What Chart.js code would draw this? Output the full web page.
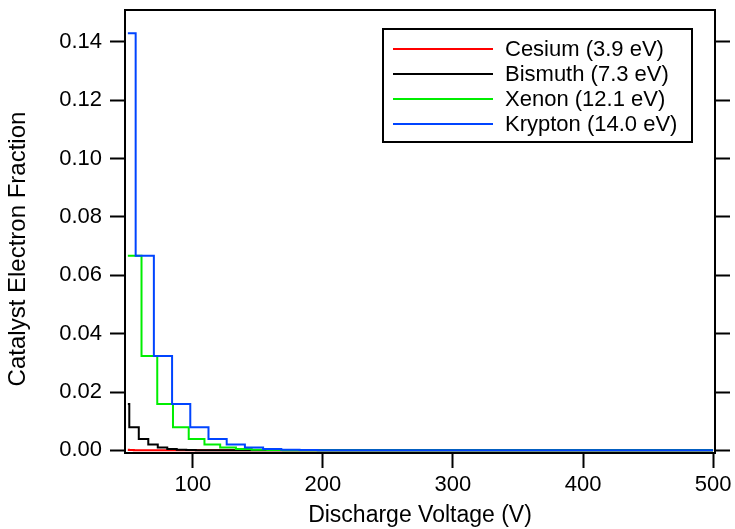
<!DOCTYPE html>
<html>
<head>
<meta charset="utf-8">
<script src="https://cdn.jsdelivr.net/npm/chart.js@4.4.1/dist/chart.umd.min.js"></script>
<style>
  html, body { margin: 0; padding: 0; background: #fff; }
  canvas { display: block; }
</style>
</head>
<body>
<canvas id="chart-fraction" width="735" height="529"></canvas>
<script>
// step edges (V) and electron fraction held from each edge to the next
const cesiumVolts = [50, 50.7, 54.6, 58.5, 62.4, 500];
const cesiumFrac = [0.00024, 0.00012, 0.00006, 0.00003, 0.00002, 0.00002];

const bismuthVolts = [50, 51.1, 58.4, 65.7, 73, 80.3, 87.6, 94.9, 102.2, 109.5, 500];
const bismuthFrac = [0.0159, 0.0079, 0.0039, 0.0020, 0.0010, 0.0005, 0.0002, 0.0001, 0.00006, 0.00003, 0.00003];

const xenonVolts = [50, 60.5, 72.6, 84.7, 96.8, 108.9, 121, 133.1, 145.2, 157.3, 169.4, 181.5, 500];
const xenonFrac = [0.0667, 0.0323, 0.0159, 0.0079, 0.0039, 0.0020, 0.0010, 0.0005, 0.0002, 0.0001, 0.00006, 0.00003, 0.00003];

const kryptonVolts = [50, 56, 70, 84, 98, 112, 126, 140, 154, 168, 182, 196, 210, 500];
const kryptonFrac = [0.1429, 0.0667, 0.0323, 0.0159, 0.0079, 0.0039, 0.0020, 0.0010, 0.0005, 0.0002, 0.0001, 0.00006, 0.00003, 0.00003];

const seriesNames = ['Cesium (3.9 eV)', 'Bismuth (7.3 eV)', 'Xenon (12.1 eV)', 'Krypton (14.0 eV)'];
const seriesColors = ['#ff0000', '#000000', '#00ee00', '#0044ff'];

const xTickValues = [100, 200, 300, 400, 500];
const yTickValues = [0, 0.02, 0.04, 0.06, 0.08, 0.10, 0.12, 0.14];

const X_MIN = 47.8, X_MAX = 501.5;
const Y_MIN = -0.0009, Y_MAX = 0.1509;

const FONT = '"Liberation Sans", Arial, sans-serif';
const FONT_SIZE = 22;
Chart.defaults.font.family = FONT;
Chart.defaults.font.size = FONT_SIZE;
Chart.defaults.color = '#000';

const ctx = document.getElementById('chart-fraction');

const voltSets = [cesiumVolts, bismuthVolts, xenonVolts, kryptonVolts];
const fracSets = [cesiumFrac, bismuthFrac, xenonFrac, kryptonFrac];

const datasets = seriesNames.map((name, i) => ({
  label: name,
  data: voltSets[i].map((v, j) => ({ x: v, y: fracSets[i][j] })),
  borderColor: seriesColors[i],
  borderWidth: 2,
  pointRadius: 0,
  stepped: 'before',
  fill: false,
  // krypton on top, cesium underneath
  order: seriesNames.length - 1 - i
}));

// plot frame, y title and the boxed legend in the upper right
const framePlugin = {
  id: 'frame',
  afterDatasetsDraw(chart) {
    const { ctx, chartArea: a } = chart;
    ctx.save();
    ctx.strokeStyle = '#000';
    ctx.lineWidth = 2;
    ctx.strokeRect(a.left, a.top, a.right - a.left, a.bottom - a.top);

    ctx.fillStyle = '#000';
    ctx.font = '24px ' + FONT;
    ctx.textAlign = 'center';
    ctx.textBaseline = 'middle';
    ctx.save();
    ctx.translate(18, 249);
    ctx.rotate(-Math.PI / 2);
    ctx.fillText('Catalyst Electron Fraction', 0, 0);
    ctx.restore();

    const boxRight = a.right - 23;
    const boxLeft = boxRight - 309;
    const boxTop = a.top + 19;
    const boxHeight = 113;
    ctx.fillStyle = '#fff';
    ctx.fillRect(boxLeft, boxTop, boxRight - boxLeft, boxHeight);
    ctx.strokeRect(boxLeft, boxTop, boxRight - boxLeft, boxHeight);

    ctx.font = FONT_SIZE + 'px ' + FONT;
    ctx.textAlign = 'left';
    seriesNames.forEach((name, i) => {
      const y = boxTop + 20 + i * 25;
      ctx.strokeStyle = seriesColors[i];
      ctx.beginPath();
      ctx.moveTo(boxLeft + 10, y);
      ctx.lineTo(boxLeft + 110, y);
      ctx.stroke();
      ctx.fillStyle = '#000';
      ctx.fillText(name, boxLeft + 122, y + 1);
    });
    ctx.restore();
  }
};

const tickGrid = {
  drawOnChartArea: false,
  drawTicks: true,
  tickLength: 15,
  tickWidth: 2,
  tickColor: '#000'
};

new Chart(ctx, {
  type: 'line',
  data: { datasets },
  plugins: [framePlugin],
  options: {
    responsive: false,
    animation: false,
    layout: { padding: { top: 10, left: 0, right: 0, bottom: 0 } },
    plugins: {
      legend: { display: false },
      tooltip: { enabled: false }
    },
    scales: {
      x: {
        type: 'linear',
        position: 'bottom',
        min: X_MIN,
        max: X_MAX,
        afterBuildTicks: (scale) => { scale.ticks = xTickValues.map(v => ({ value: v })); },
        afterFit: (scale) => {
          scale.height = 76;
          scale.paddingLeft = 0;
          scale.paddingRight = 0;
        },
        ticks: { padding: 4, maxRotation: 0, callback: (v) => v.toString() },
        grid: tickGrid,
        border: { display: true, color: '#000', width: 2 },
        title: {
          display: true,
          text: 'Discharge Voltage (V)',
          font: { size: 23 },
          padding: { top: 0, bottom: 0 }
        }
      },
      y: {
        type: 'linear',
        position: 'left',
        min: Y_MIN,
        max: Y_MAX,
        afterBuildTicks: (scale) => { scale.ticks = yTickValues.map(v => ({ value: v })); },
        afterFit: (scale) => {
          scale.width = 125;
          scale.paddingTop = 0;
          scale.paddingBottom = 0;
        },
        ticks: { padding: 8, callback: (v) => v.toFixed(2) },
        grid: tickGrid,
        border: { display: true, color: '#000', width: 2 }
      },
      y2: {
        type: 'linear',
        position: 'right',
        min: Y_MIN,
        max: Y_MAX,
        afterBuildTicks: (scale) => { scale.ticks = yTickValues.map(v => ({ value: v })); },
        afterFit: (scale) => {
          scale.width = 20;
          scale.paddingTop = 0;
          scale.paddingBottom = 0;
        },
        ticks: { display: false },
        grid: tickGrid,
        border: { display: true, color: '#000', width: 2 }
      }
    }
  }
});
</script>
</body>
</html>
